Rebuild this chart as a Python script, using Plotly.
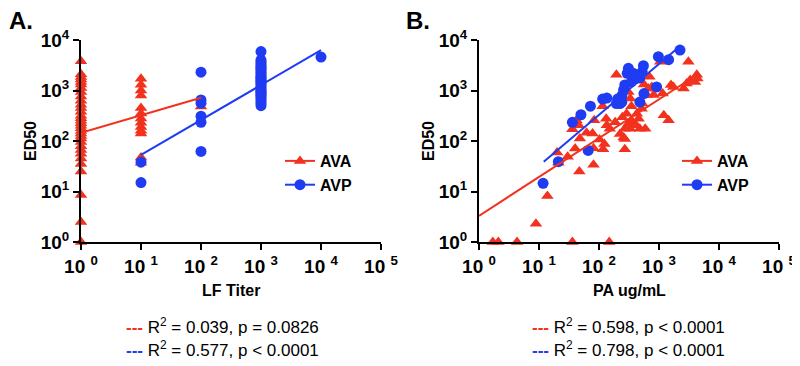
import plotly.graph_objects as go

# the page body adds an 8px offset, so the figure is 8px smaller and all pixel positions are shifted by -8
W, H = 792, 358
OFF = 8
RED = "#F2321E"
BLUE = "#1F3CF2"
FONT = "Liberation Sans, Arial, sans-serif"

# ---------------- Panel A: LF Titer ----------------
lf_ava_x = [1, 1, 1, 1, 1, 1, 1, 1, 1, 1, 1, 1, 1, 1, 1, 1, 1, 1, 1, 1, 1, 1, 1, 1, 1, 1, 1, 1, 1, 1, 1, 1, 1,
            10, 10, 10, 10, 10, 10, 10, 10, 10, 10, 10, 10, 10,
            100]
lf_ava_y = [3800, 2100, 1860, 1660, 1480, 1320, 1120, 930, 760, 630, 525, 450, 380, 316, 282, 251, 224, 200, 178,
            158, 141, 126, 112, 95, 79, 66, 56, 45, 35, 25, 8.5, 2.5, 1.0,
            1700, 1300, 1000, 800, 450, 350, 280, 230, 190, 160, 140, 47, 37,
            480]
lf_avp_x = [10, 10,
            100, 100, 100, 100, 100, 100,
            1000, 1000, 1000, 1000, 1000, 1000, 1000, 1000, 1000, 1000, 1000, 1000, 1000, 1000, 1000, 1000,
            1000, 1000, 1000, 1000, 1000, 1000, 1000, 1000, 1000, 1000, 1000, 1000, 1000,
            10000]
lf_avp_y = [15, 38,
            2300, 650, 560, 310, 235, 62,
            5900, 4000, 3700, 3400, 3100, 2900, 2700, 2500, 2300, 2100, 1900, 1800, 1700, 1600, 1500, 1400,
            1300, 1200, 1100, 1000, 950, 900, 850, 800, 740, 680, 620, 560, 500,
            4600]
lf_ava_fit_x = [1, 100]
lf_ava_fit_y = [146, 720]
lf_avp_fit_x = [10, 10000]
lf_avp_fit_y = [53, 6300]

# ---------------- Panel B: PA ug/mL ----------------
pa_ava_x = [1.7, 2.1, 4.3, 36, 148, 8.9, 13.8, 20, 21, 30, 36, 42, 46, 40, 47, 48, 62, 78, 81, 81, 83, 102, 117,
            123, 132, 115, 135, 151, 186, 195, 224, 257, 269, 269, 245, 269, 288, 309, 331, 347, 372, 417, 347,
            331, 309, 427, 457, 479, 513, 525, 562, 589, 617, 661, 692, 759, 813, 891, 1047, 1148, 1202, 1445,
            1585, 1738, 2570, 2884, 3090, 3311, 3981, 4266, 4365]
pa_ava_y = [1, 1, 1, 1, 1, 2.3, 8.1, 59, 37, 49, 170, 257, 204, 71, 25, 112, 145, 141, 72, 34, 257, 107, 69,
            87, 275, 490, 204, 174, 234, 2040, 138, 117, 110, 174, 295, 69, 347, 219, 174, 257, 219, 204, 490,
            692, 933, 347, 275, 174, 437, 550, 1318, 174, 813, 1096, 1862, 1175, 813, 1096, 3715, 871, 324, 257,
            1288, 1175, 1096, 1380, 3715, 1622, 1479, 2040, 1738]
pa_avp_x = [11.7, 21, 36, 50, 72, 66, 115, 135, 204, 224, 240, 257, 269, 295, 309, 347, 372, 417, 457, 479,
            525, 550, 479, 562, 977, 912, 1445, 2239, 240, 195]
pa_avp_y = [14.5, 39, 234, 331, 490, 65, 676, 708, 676, 550, 589, 1023, 1288, 2188, 2754, 1479, 2188, 1738,
            2042, 1778, 2344, 3090, 589, 871, 4677, 1175, 4074, 6310, 794, 550]
pa_ava_fit_x = [1, 4300]
pa_ava_fit_y = [3.3, 2050]
pa_avp_fit_x = [12, 2200]
pa_avp_fit_y = [39, 7400]

tick_vals_x = [1, 10, 100, 1000, 10000, 100000]
tick_text_x = ["<b>10 <sup>0</sup></b>", "<b>10 <sup>1</sup></b>", "<b>10 <sup>2</sup></b>",
               "<b>10 <sup>3</sup></b>", "<b>10 <sup>4</sup></b>", "<b>10 <sup>5</sup></b>"]
tick_vals_y = [1, 10, 100, 1000, 10000]
tick_text_y = ["<b>10<sup>0</sup></b>", "<b>10<sup>1</sup></b>", "<b>10<sup>2</sup></b>",
               "<b>10<sup>3</sup></b>", "<b>10<sup>4</sup></b>"]

stats_a = ["R<sup>2</sup> = 0.039, p = 0.0826", "R<sup>2</sup> = 0.577, p < 0.0001"]
stats_b = ["R<sup>2</sup> = 0.598, p < 0.0001", "R<sup>2</sup> = 0.798, p < 0.0001"]


def px_x(p):
    return (p - OFF) / W


def px_y(p):
    return (H - (p - OFF)) / H


fig = go.Figure()

tri = dict(symbol="triangle-up", size=11, color=RED)
dot = dict(symbol="circle", size=11, color=BLUE)

for xa, ya, legname, data in [
    ("x", "y", "legend", (lf_ava_x, lf_ava_y, lf_avp_x, lf_avp_y, lf_ava_fit_x, lf_ava_fit_y, lf_avp_fit_x, lf_avp_fit_y)),
    ("x2", "y2", "legend2", (pa_ava_x, pa_ava_y, pa_avp_x, pa_avp_y, pa_ava_fit_x, pa_ava_fit_y, pa_avp_fit_x, pa_avp_fit_y)),
]:
    ax, ay, bx, by, afx, afy, bfx, bfy = data
    fig.add_trace(go.Scatter(x=ax, y=ay, mode="markers", marker=tri, xaxis=xa, yaxis=ya,
                             showlegend=False, cliponaxis=False))
    fig.add_trace(go.Scatter(x=bx, y=by, mode="markers", marker=dot, xaxis=xa, yaxis=ya,
                             showlegend=False, cliponaxis=False))
    fig.add_trace(go.Scatter(x=afx, y=afy, mode="lines", line=dict(color=RED, width=2), xaxis=xa, yaxis=ya,
                             showlegend=False, cliponaxis=False))
    fig.add_trace(go.Scatter(x=bfx, y=bfy, mode="lines", line=dict(color=BLUE, width=2), xaxis=xa, yaxis=ya,
                             showlegend=False, cliponaxis=False))
    fig.add_trace(go.Scatter(x=[None], y=[None], mode="lines+markers", name="AVA", marker=tri,
                             line=dict(color=RED, width=2), xaxis=xa, yaxis=ya, legend=legname))
    fig.add_trace(go.Scatter(x=[None], y=[None], mode="lines+markers", name="AVP", marker=dot,
                             line=dict(color=BLUE, width=2), xaxis=xa, yaxis=ya, legend=legname))

axis_common = dict(type="log", showgrid=False, zeroline=False, showline=True, linecolor="black", linewidth=2,
                   ticks="outside", ticklen=6, tickwidth=2, tickcolor="black", automargin=False,
                   tickfont=dict(family=FONT, size=19, color="black"))

yb, yt = px_y(242), px_y(40)
fig.update_layout(
    width=W, height=H, margin=dict(l=0, r=0, t=0, b=0, autoexpand=False),
    paper_bgcolor="white", plot_bgcolor="white",
    xaxis=dict(domain=[px_x(81), px_x(381)], range=[0, 5], anchor="y", tickvals=tick_vals_x, ticktext=tick_text_x, **axis_common),
    yaxis=dict(domain=[yb, yt], range=[0, 4], anchor="x", tickvals=tick_vals_y, ticktext=tick_text_y, **axis_common),
    xaxis2=dict(domain=[px_x(479), px_x(779)], range=[0, 5], anchor="y2", tickvals=tick_vals_x, ticktext=tick_text_x, **axis_common),
    yaxis2=dict(domain=[yb, yt], range=[0, 4], anchor="x2", tickvals=tick_vals_y, ticktext=tick_text_y, **axis_common),
    legend=dict(x=px_x(280), y=px_y(144), xanchor="left", yanchor="top", bgcolor="rgba(0,0,0,0)",
                font=dict(family=FONT, size=16, color="black", weight="bold"), itemwidth=30, tracegroupgap=0),
    legend2=dict(x=px_x(677), y=px_y(144), xanchor="left", yanchor="top", bgcolor="rgba(0,0,0,0)",
                 font=dict(family=FONT, size=16, color="black", weight="bold"), itemwidth=30, tracegroupgap=0),
)

ann = []
# panel letters
ann.append(dict(text="<b>A.</b>", x=px_x(7), y=px_y(21), xanchor="left", yanchor="middle",
                font=dict(family=FONT, size=24, color="black")))
ann.append(dict(text="<b>B.</b>", x=px_x(404), y=px_y(21), xanchor="left", yanchor="middle",
                font=dict(family=FONT, size=24, color="black")))
# y titles
for xc in (30, 428):
    ann.append(dict(text="<b>ED50</b>", x=px_x(xc), y=px_y(141), xanchor="center", yanchor="middle",
                    textangle=-90, font=dict(family=FONT, size=16, color="black")))
# x titles
ann.append(dict(text="<b>LF Titer</b>", x=px_x(231), y=px_y(290), xanchor="center", yanchor="middle",
                font=dict(family=FONT, size=16, color="black")))
ann.append(dict(text="<b>PA ug/mL</b>", x=px_x(629), y=px_y(290), xanchor="center", yanchor="middle",
                font=dict(family=FONT, size=16, color="black")))
# stats lines
for xc, lines in ((222, stats_a), (628, stats_b)):
    for i, (txt, col) in enumerate(zip(lines, (RED, BLUE))):
        ann.append(dict(text=f'<span style="color:{col}"><b>---</b></span> {txt}', x=px_x(xc), y=px_y(326 + 23 * i),
                        xanchor="center", yanchor="middle", font=dict(family=FONT, size=17, color="black")))
for a in ann:
    a.update(xref="paper", yref="paper", showarrow=False)
fig.update_layout(annotations=ann)

fig.write_html("out.html")
